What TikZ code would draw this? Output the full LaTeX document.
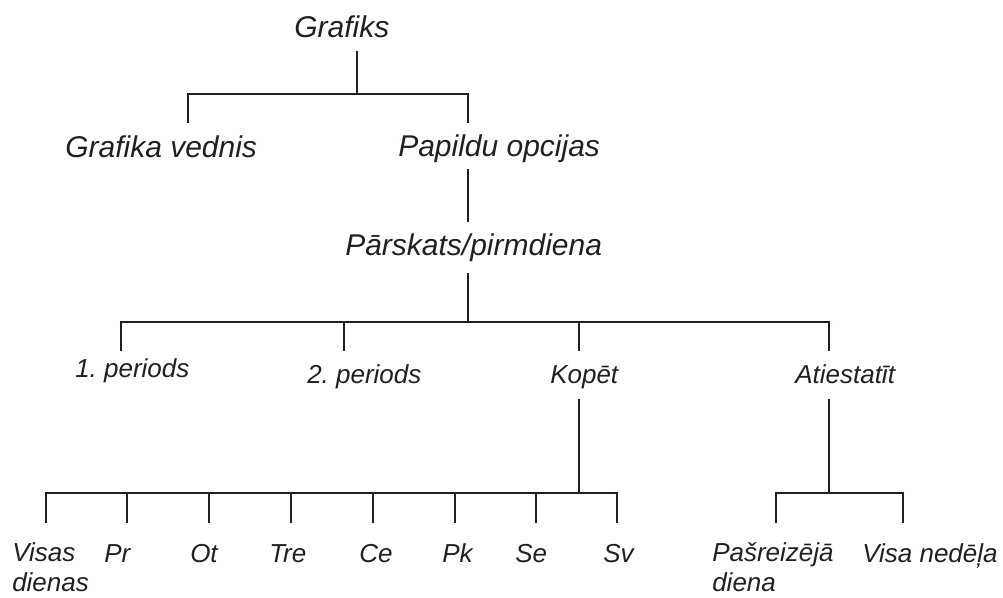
\documentclass[tikz,border=0pt]{standalone}
\usepackage{fontspec}
\setmainfont{Liberation Sans}
\frenchspacing
\definecolor{ink}{HTML}{231F20}
\begin{document}
\begin{tikzpicture}[x=0.75pt,y=-0.75pt,
  big/.style={anchor=base west,inner sep=0pt,font=\fontsize{22.5}{27}\selectfont\itshape,text=ink},
  lbl/.style={anchor=base west,inner sep=0pt,font=\fontsize{19.5}{22.2}\selectfont\itshape,text=ink,align=left},
  wire/.style={draw=ink,line width=2.2pt}]
\useasboundingbox (0,0) rectangle (1003,598);
% texts
\node[big] (grafiks) at (294,38) {Grafiks};
\node[big] (vednis) at (65,158) {Grafika vednis};
\node[big] (papildu) at (398,157) {Papildu opcijas};
\node[big] (parskats) at (345,256) {Pārskats/pirmdiena};
\node[lbl] (p1) at (75,378) {1. periods};
\node[lbl] (p2) at (307,383) {2. periods};
\node[lbl] (kopet) at (550,383) {Kopēt};
\node[lbl] (atiest) at (795,383) {Atiestatīt};
\node[lbl] (visas) at (12,591) {Visas\\dienas};
\node[lbl] (pr) at (104,562) {Pr};
\node[lbl] (ot) at (190,562) {Ot};
\node[lbl] (tre) at (269,562) {Tre};
\node[lbl] (ce) at (359,562) {Ce};
\node[lbl] (pk) at (442,562) {Pk};
\node[lbl] (se) at (515,562) {Se};
\node[lbl] (sv) at (603,562) {Sv};
\node[lbl] (pasr) at (712,591) {Pašreizējā\\diena};
\node[lbl] (nedela) at (862,562) {Visa nedēļa};
% junction coordinates
\coordinate (s0) at (357,51);
\coordinate (s1) at (357,94);
\coordinate (a1) at (188,123);
\coordinate (a2) at (468,123);
\coordinate (b0) at (468,169);
\coordinate (b1) at (468,222);
\coordinate (c0) at (468,273);
\coordinate (c1) at (468,322);
\coordinate (d1) at (121,351);
\coordinate (d2) at (344,351);
\coordinate (d3) at (579,351);
\coordinate (d4) at (829,351);
\coordinate (e0) at (579,399);
\coordinate (e1) at (579,493);
\coordinate (f1) at (46,523);
\coordinate (f2) at (127,523);
\coordinate (f3) at (209,523);
\coordinate (f4) at (291,523);
\coordinate (f5) at (373,523);
\coordinate (f6) at (455,523);
\coordinate (f7) at (536,523);
\coordinate (f8) at (617,523);
\coordinate (g0) at (829,399);
\coordinate (g1) at (829,493);
\coordinate (h1) at (776,523);
\coordinate (h2) at (903,523);
% connectors
\draw[wire] (s0) -- (s1);
\draw[wire] (a1) |- (s1) -| (a2);
\draw[wire] (b0) -- (b1);
\draw[wire] (c0) -- (c1);
\draw[wire] (d1) |- (c1) -| (d4);
\draw[wire] (d2) -- (d2 |- c1);
\draw[wire] (d3) -- (d3 |- c1);
\draw[wire] (e0) -- (e1);
\draw[wire] (f1) |- (e1) -| (f8);
\foreach \f in {f2,f3,f4,f5,f6,f7} \draw[wire] (\f) -- (\f |- e1);
\draw[wire] (g0) -- (g1);
\draw[wire] (h1) |- (g1) -| (h2);
\end{tikzpicture}
\end{document}
